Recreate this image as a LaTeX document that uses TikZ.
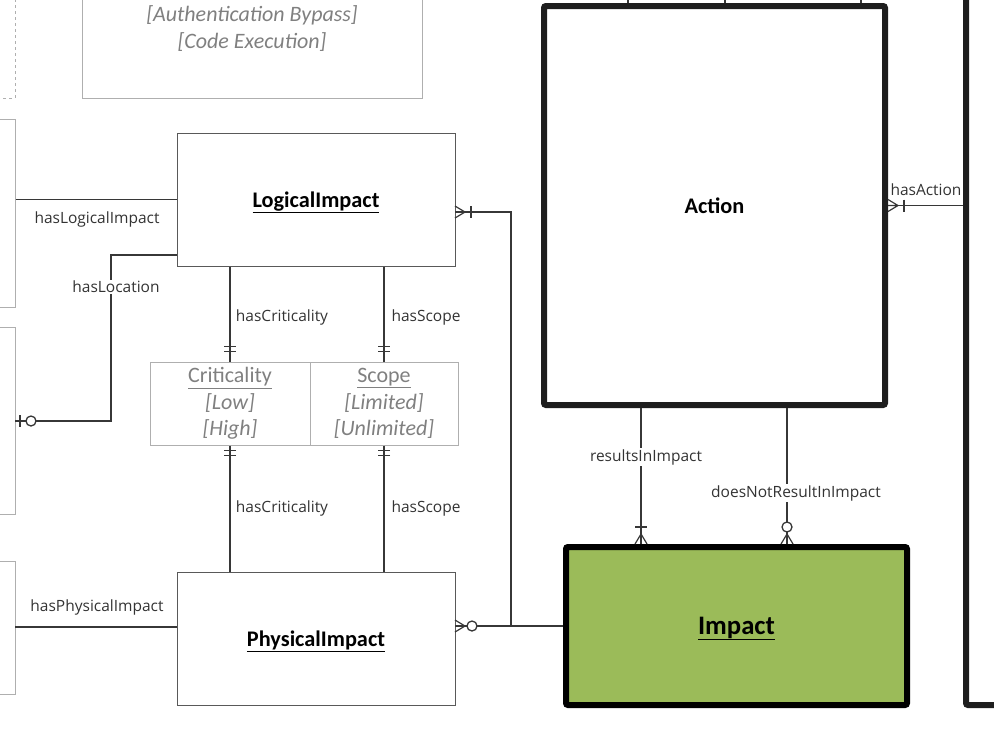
\documentclass[tikz,border=0pt]{standalone}
\usepackage{fontspec}
\setmainfont{Carlito}
\newfontfamily\lblfamily{Open Sans}
\definecolor{linecol}{RGB}{55,55,55}
\definecolor{entcol}{RGB}{89,89,89}
\definecolor{lightcol}{RGB}{175,175,175}
\definecolor{graytxt}{RGB}{128,128,128}
\definecolor{thickcol}{RGB}{30,30,30}
\definecolor{impactgreen}{RGB}{155,187,89}
\newcommand{\lblfont}{\lblfamily\fontsize{15.5}{18}\selectfont}
\newcommand{\titlefont}{\fontsize{22.3}{26}\selectfont\bfseries}
\newcommand{\valfont}{\fontsize{22}{26.5}\selectfont}
\newcommand{\ultitle}[2]{\raisebox{#1}[0pt][0pt]{\underline{#2}}}
\tikzset{
  conn/.style={draw=linecol, line width=1.3pt},
  entity/.style={draw=entcol, line width=1pt, font=\titlefont, text=black},
  lightbox/.style={draw=lightcol, line width=1pt},
  thickbox/.style={draw=thickcol, line width=6pt, rounded corners=2pt},
  lbl/.style={font=\lblfont, text=black!80, inner sep=1pt},
  pics/crowfoot/.style={code={\draw[conn, line width=1.2pt] (0,-6) -- (10,0) -- (0,6) (0,0) -- (10,0);}},
  pics/bar/.style={code={\draw[conn] (#1,-6) -- (#1,6);}},
  pics/ring/.style={code={\draw[conn, fill=white] (#1,0) circle (5);}}
}
\begin{document}
\begin{tikzpicture}[x=1pt, y=-1pt]
\useasboundingbox (0,0) rectangle (994,737);
\clip (0,0) rectangle (994,737);

% left boxes (cut off)
\draw[lightbox, dashed] (-50,-20) -- (15,-20) -- (15,98) -- (-50,98);
\node[lightbox, minimum width=115, minimum height=188] (left1) at (-42.5,213) {};
\node[lightbox, minimum width=115, minimum height=187] (left2) at (-42.5,420.5) {};
\node[lightbox, minimum width=115, minimum height=133] (left3) at (-42.5,627.5) {};

% vulnerability box (cut off)
\node[lightbox, minimum width=340, minimum height=140] (vuln) at (252,28) {};
\node[font=\fontsize{22}{27}\selectfont\itshape, text=graytxt, align=center] (vulntxt) at (252,29) {{[Authentication Bypass]}\\ {[Code Execution]}};

% entities
\node[entity, minimum width=278, minimum height=133] (logical) at (316,199.5) {\ultitle{-7.5pt}{LogicalImpact}};
\node[entity, minimum width=278, minimum height=133] (physical) at (316,638.5) {\ultitle{-7.5pt}{PhysicalImpact}};
\node[thickbox, minimum width=341, minimum height=399, font=\titlefont] (action) at (714.5,205.5) {Action};
\node[thickbox, draw=black, fill=impactgreen, minimum width=341, minimum height=158,
      font=\fontsize{26.7}{30}\selectfont\bfseries] (impact) at (736.5,626) {\ultitle{-8pt}{Impact}};
\node[thickbox, minimum width=148, minimum height=730] (system) at (1040,340) {};

% criticality / scope
\node[lightbox, minimum width=160, minimum height=83, font=\valfont, text=graytxt, align=center] (crit) at (230,403.5)
  {\underline{Criticality}\\ \textit{[Low]}\\ \textit{[High]}};
\node[lightbox, minimum width=148, minimum height=83, font=\valfont, text=graytxt, align=center] (scope) at (384,403.5)
  {\underline{Scope}\\ \textit{[Limited]}\\ \textit{[Unlimited]}};

% connectors
\coordinate (lgL) at (177,255);
\coordinate (lgR) at (455,212);
\coordinate (phL) at (177,627);
\coordinate (phR) at (455,626);
\coordinate (l2R) at (15,421);
\coordinate (l3R) at (15,627);

\draw[conn] (logical.west -| left1.east) -- (logical.west);
\draw[conn] (lgL) -| (111,421) -- (l2R);
\draw[conn] (l3R) -- (phL);
\draw[conn] (lgR) -- (511,212) |- (impact.west);
\draw[conn] (phR) -- (impact.west -| 511,0);
\draw[conn] (logical.south -| crit.north) -- (crit.north);
\draw[conn] (logical.south -| scope.north) -- (scope.north);
\draw[conn] (crit.south) -- (physical.north -| crit.south);
\draw[conn] (scope.south) -- (physical.north -| scope.south);
\draw[conn] (action.south -| 641,0) -- (impact.north -| 641,0);
\draw[conn] (action.south -| 787,0) -- (impact.north -| 787,0);
\draw[conn] (action.east) -- (action.east -| system.west);
\foreach \x in {628,725,861}
  \draw[conn] (action.north -| \x,0) -- (\x,-10);

% markers
\pic at (lgR) {crowfoot};
\pic at (lgR) {bar=16};
\pic at (phR) {crowfoot};
\pic at (phR) {ring=17};
\pic at (l2R) {bar=5};
\pic at (l2R) {ring=16};
\pic[rotate=90] at (crit.north) {bar=10};
\pic[rotate=90] at (crit.north) {bar=15};
\pic[rotate=90] at (scope.north) {bar=10};
\pic[rotate=90] at (scope.north) {bar=15};
\pic[rotate=-90] at (crit.south) {bar=5};
\pic[rotate=-90] at (crit.south) {bar=10};
\pic[rotate=-90] at (scope.south) {bar=5};
\pic[rotate=-90] at (scope.south) {bar=10};
\pic[rotate=90] at (impact.north -| 641,0) {crowfoot};
\pic[rotate=90] at (impact.north -| 641,0) {bar=17};
\pic[rotate=90] at (impact.north -| 787,0) {crowfoot};
\pic[rotate=90] at (impact.north -| 787,0) {ring=17};
\pic at (action.east) {crowfoot};
\pic at (action.east) {bar=16};

% labels
\node[lbl] (lblLogical) at (97,219) {hasLogicalImpact};
\node[lbl, fill=white] (lblLocation) at (116,287) {hasLocation};
\node[lbl] (lblPhysical) at (97,607) {hasPhysicalImpact};
\node[lbl] (lblCritA) at (282,317) {hasCriticality};
\node[lbl] (lblScopeA) at (426,317) {hasScope};
\node[lbl] (lblCritB) at (282,508) {hasCriticality};
\node[lbl] (lblScopeB) at (426,508) {hasScope};
\node[lbl, fill=white] (lblResults) at (646,457) {resultsInImpact};
\node[lbl, fill=white] (lblNotResults) at (796,493) {doesNotResultInImpact};
\node[lbl] (lblAction) at (926,190) {hasAction};
\end{tikzpicture}
\end{document}
